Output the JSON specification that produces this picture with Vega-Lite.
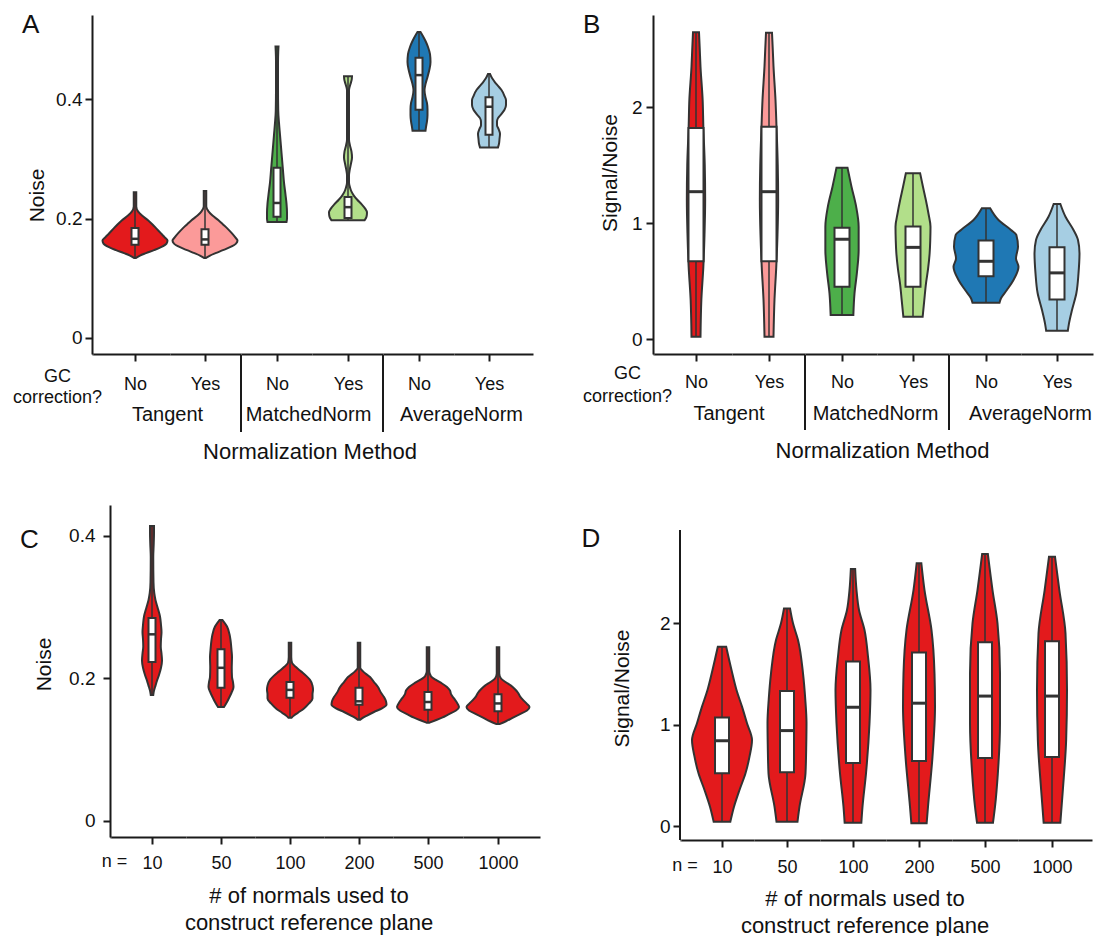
{
"$schema": "https://vega.github.io/schema/vega-lite/v6.json",
"autosize": {"type": "none"},
"padding": {"left": 92, "top": 15, "right": 1002, "bottom": 921},
"config": {
  "font": "Liberation Sans",
  "view": {"stroke": null},
  "axis": {"grid": false, "domainColor": "#1a1a1a", "domainWidth": 2, "tickColor": "#1a1a1a", "tickWidth": 2, "tickSize": 7, "labelFontSize": 19, "labelColor": "#111111", "titleFontSize": 18, "titleFontWeight": "normal", "titleColor": "#111111", "labelFont": "Liberation Sans", "titleFont": "Liberation Sans"},
  "title": {"fontWeight": "normal", "color": "#111111", "font": "Liberation Sans", "fontSize": 20}
},
"datasets": {
"violins": [
{"g":"A-TN","v":0.134,"w":2},{"g":"A-TN","v":0.138,"w":10},{"g":"A-TN","v":0.142,"w":22},{"g":"A-TN","v":0.147,"w":38},{"g":"A-TN","v":0.152,"w":52},{"g":"A-TN","v":0.158,"w":63},{"g":"A-TN","v":0.163,"w":65},{"g":"A-TN","v":0.168,"w":60},{"g":"A-TN","v":0.175,"w":52},{"g":"A-TN","v":0.183,"w":43},{"g":"A-TN","v":0.19,"w":35},{"g":"A-TN","v":0.197,"w":26},{"g":"A-TN","v":0.205,"w":14},{"g":"A-TN","v":0.212,"w":6},{"g":"A-TN","v":0.22,"w":2.5},{"g":"A-TN","v":0.232,"w":2.5},{"g":"A-TN","v":0.244,"w":2.5},
{"g":"A-TY","v":0.134,"w":2},{"g":"A-TY","v":0.138,"w":10},{"g":"A-TY","v":0.142,"w":21},{"g":"A-TY","v":0.147,"w":36},{"g":"A-TY","v":0.152,"w":50},{"g":"A-TY","v":0.158,"w":62},{"g":"A-TY","v":0.163,"w":65},{"g":"A-TY","v":0.168,"w":61},{"g":"A-TY","v":0.175,"w":54},{"g":"A-TY","v":0.183,"w":45},{"g":"A-TY","v":0.19,"w":36},{"g":"A-TY","v":0.197,"w":27},{"g":"A-TY","v":0.205,"w":15},{"g":"A-TY","v":0.212,"w":7},{"g":"A-TY","v":0.22,"w":2.5},{"g":"A-TY","v":0.235,"w":2.5},{"g":"A-TY","v":0.246,"w":2.5},
{"g":"A-MN","v":0.194,"w":19},{"g":"A-MN","v":0.2,"w":20},{"g":"A-MN","v":0.21,"w":20},{"g":"A-MN","v":0.225,"w":19},{"g":"A-MN","v":0.24,"w":17},{"g":"A-MN","v":0.26,"w":14},{"g":"A-MN","v":0.28,"w":12},{"g":"A-MN","v":0.3,"w":10},{"g":"A-MN","v":0.32,"w":8},{"g":"A-MN","v":0.34,"w":6},{"g":"A-MN","v":0.36,"w":4},{"g":"A-MN","v":0.38,"w":2.5},{"g":"A-MN","v":0.42,"w":2},{"g":"A-MN","v":0.46,"w":2},{"g":"A-MN","v":0.48,"w":2.5},{"g":"A-MN","v":0.488,"w":3},
{"g":"A-MY","v":0.197,"w":33},{"g":"A-MY","v":0.203,"w":37},{"g":"A-MY","v":0.21,"w":38},{"g":"A-MY","v":0.217,"w":34},{"g":"A-MY","v":0.224,"w":27},{"g":"A-MY","v":0.231,"w":19},{"g":"A-MY","v":0.238,"w":12},{"g":"A-MY","v":0.245,"w":7},{"g":"A-MY","v":0.252,"w":4},{"g":"A-MY","v":0.26,"w":2},{"g":"A-MY","v":0.272,"w":2},{"g":"A-MY","v":0.282,"w":3.5},{"g":"A-MY","v":0.292,"w":6},{"g":"A-MY","v":0.302,"w":8},{"g":"A-MY","v":0.312,"w":7},{"g":"A-MY","v":0.322,"w":4},{"g":"A-MY","v":0.332,"w":2},{"g":"A-MY","v":0.37,"w":2},{"g":"A-MY","v":0.415,"w":2},{"g":"A-MY","v":0.425,"w":5},{"g":"A-MY","v":0.433,"w":7.5},{"g":"A-MY","v":0.438,"w":8},
{"g":"A-AN","v":0.347,"w":13},{"g":"A-AN","v":0.353,"w":14},{"g":"A-AN","v":0.363,"w":16},{"g":"A-AN","v":0.373,"w":17},{"g":"A-AN","v":0.383,"w":17},{"g":"A-AN","v":0.393,"w":16},{"g":"A-AN","v":0.403,"w":13},{"g":"A-AN","v":0.415,"w":11},{"g":"A-AN","v":0.425,"w":13},{"g":"A-AN","v":0.437,"w":17},{"g":"A-AN","v":0.45,"w":21},{"g":"A-AN","v":0.462,"w":23},{"g":"A-AN","v":0.475,"w":22},{"g":"A-AN","v":0.487,"w":18},{"g":"A-AN","v":0.497,"w":13},{"g":"A-AN","v":0.505,"w":8},{"g":"A-AN","v":0.512,"w":3},
{"g":"A-AY","v":0.319,"w":18},{"g":"A-AY","v":0.325,"w":20},{"g":"A-AY","v":0.333,"w":21},{"g":"A-AY","v":0.342,"w":22},{"g":"A-AY","v":0.35,"w":19},{"g":"A-AY","v":0.356,"w":16},{"g":"A-AY","v":0.362,"w":16},{"g":"A-AY","v":0.368,"w":18},{"g":"A-AY","v":0.375,"w":25},{"g":"A-AY","v":0.382,"w":31},{"g":"A-AY","v":0.39,"w":34},{"g":"A-AY","v":0.398,"w":34},{"g":"A-AY","v":0.405,"w":31},{"g":"A-AY","v":0.415,"w":25},{"g":"A-AY","v":0.422,"w":18},{"g":"A-AY","v":0.428,"w":12},{"g":"A-AY","v":0.435,"w":6},{"g":"A-AY","v":0.442,"w":2},
{"g":"B-TN","v":0.02,"w":9},{"g":"B-TN","v":0.336,"w":10.7},{"g":"B-TN","v":0.623,"w":14.7},{"g":"B-TN","v":0.9,"w":17},{"g":"B-TN","v":1.198,"w":18.3},{"g":"B-TN","v":1.5,"w":17.5},{"g":"B-TN","v":1.83,"w":14.7},{"g":"B-TN","v":2.06,"w":13.3},{"g":"B-TN","v":2.347,"w":9},{"g":"B-TN","v":2.5,"w":7.5},{"g":"B-TN","v":2.644,"w":6},
{"g":"B-TY","v":0.02,"w":9},{"g":"B-TY","v":0.34,"w":11},{"g":"B-TY","v":0.62,"w":14.5},{"g":"B-TY","v":0.9,"w":17},{"g":"B-TY","v":1.2,"w":18.3},{"g":"B-TY","v":1.5,"w":17.5},{"g":"B-TY","v":1.83,"w":15},{"g":"B-TY","v":2.06,"w":13},{"g":"B-TY","v":2.35,"w":9},{"g":"B-TY","v":2.5,"w":7.5},{"g":"B-TY","v":2.64,"w":6},
{"g":"B-MN","v":0.207,"w":22.7},{"g":"B-MN","v":0.394,"w":25},{"g":"B-MN","v":0.566,"w":29.7},{"g":"B-MN","v":0.767,"w":33.3},{"g":"B-MN","v":0.968,"w":33.3},{"g":"B-MN","v":1.141,"w":28.3},{"g":"B-MN","v":1.313,"w":19},{"g":"B-MN","v":1.477,"w":11},
{"g":"B-MY","v":0.192,"w":19.3},{"g":"B-MY","v":0.33,"w":22.5},{"g":"B-MY","v":0.48,"w":26},{"g":"B-MY","v":0.6,"w":30},{"g":"B-MY","v":0.739,"w":33.3},{"g":"B-MY","v":0.85,"w":34.5},{"g":"B-MY","v":0.968,"w":35},{"g":"B-MY","v":1.08,"w":31},{"g":"B-MY","v":1.198,"w":25.7},{"g":"B-MY","v":1.31,"w":20},{"g":"B-MY","v":1.428,"w":14.3},
{"g":"B-AN","v":0.313,"w":27},{"g":"B-AN","v":0.351,"w":30},{"g":"B-AN","v":0.422,"w":41.7},{"g":"B-AN","v":0.509,"w":55},{"g":"B-AN","v":0.623,"w":65},{"g":"B-AN","v":0.695,"w":60},{"g":"B-AN","v":0.796,"w":64},{"g":"B-AN","v":0.897,"w":60.7},{"g":"B-AN","v":0.94,"w":50},{"g":"B-AN","v":1.026,"w":25},{"g":"B-AN","v":1.127,"w":8.3},
{"g":"B-AY","v":0.072,"w":21.7},{"g":"B-AY","v":0.135,"w":24},{"g":"B-AY","v":0.25,"w":30},{"g":"B-AY","v":0.394,"w":38.7},{"g":"B-AY","v":0.566,"w":43},{"g":"B-AY","v":0.739,"w":45},{"g":"B-AY","v":0.853,"w":42},{"g":"B-AY","v":0.94,"w":33},{"g":"B-AY","v":1.054,"w":17},{"g":"B-AY","v":1.164,"w":6.7},
{"g":"C-10","v":0.177,"w":2.5},{"g":"C-10","v":0.183,"w":4},{"g":"C-10","v":0.19,"w":7},{"g":"C-10","v":0.197,"w":10},{"g":"C-10","v":0.205,"w":14},{"g":"C-10","v":0.215,"w":18},{"g":"C-10","v":0.225,"w":20},{"g":"C-10","v":0.235,"w":19},{"g":"C-10","v":0.245,"w":17.5},{"g":"C-10","v":0.255,"w":18},{"g":"C-10","v":0.265,"w":19},{"g":"C-10","v":0.275,"w":18},{"g":"C-10","v":0.287,"w":16},{"g":"C-10","v":0.3,"w":11},{"g":"C-10","v":0.31,"w":7},{"g":"C-10","v":0.32,"w":4.5},{"g":"C-10","v":0.335,"w":3},{"g":"C-10","v":0.37,"w":2.5},{"g":"C-10","v":0.39,"w":3.5},{"g":"C-10","v":0.405,"w":4},{"g":"C-10","v":0.414,"w":4},
{"g":"C-50","v":0.16,"w":6},{"g":"C-50","v":0.167,"w":12},{"g":"C-50","v":0.174,"w":17},{"g":"C-50","v":0.18,"w":21},{"g":"C-50","v":0.188,"w":25},{"g":"C-50","v":0.195,"w":24},{"g":"C-50","v":0.202,"w":22},{"g":"C-50","v":0.215,"w":21.5},{"g":"C-50","v":0.23,"w":22},{"g":"C-50","v":0.24,"w":21},{"g":"C-50","v":0.254,"w":19},{"g":"C-50","v":0.262,"w":17},{"g":"C-50","v":0.273,"w":12},{"g":"C-50","v":0.282,"w":3},
{"g":"C-100","v":0.145,"w":3},{"g":"C-100","v":0.148,"w":8},{"g":"C-100","v":0.152,"w":16},{"g":"C-100","v":0.158,"w":28},{"g":"C-100","v":0.165,"w":38},{"g":"C-100","v":0.172,"w":45},{"g":"C-100","v":0.178,"w":45},{"g":"C-100","v":0.184,"w":46},{"g":"C-100","v":0.19,"w":45},{"g":"C-100","v":0.198,"w":40},{"g":"C-100","v":0.204,"w":32},{"g":"C-100","v":0.21,"w":22},{"g":"C-100","v":0.216,"w":12},{"g":"C-100","v":0.222,"w":4},{"g":"C-100","v":0.23,"w":2.5},{"g":"C-100","v":0.25,"w":2.5},
{"g":"C-200","v":0.142,"w":2.5},{"g":"C-200","v":0.144,"w":6},{"g":"C-200","v":0.148,"w":16},{"g":"C-200","v":0.153,"w":30},{"g":"C-200","v":0.158,"w":46},{"g":"C-200","v":0.163,"w":55},{"g":"C-200","v":0.168,"w":54},{"g":"C-200","v":0.174,"w":50},{"g":"C-200","v":0.18,"w":44},{"g":"C-200","v":0.188,"w":38},{"g":"C-200","v":0.195,"w":30},{"g":"C-200","v":0.202,"w":22},{"g":"C-200","v":0.21,"w":8},{"g":"C-200","v":0.215,"w":2.5},{"g":"C-200","v":0.25,"w":2.5},
{"g":"C-500","v":0.138,"w":3},{"g":"C-500","v":0.141,"w":14},{"g":"C-500","v":0.145,"w":28},{"g":"C-500","v":0.15,"w":42},{"g":"C-500","v":0.155,"w":56},{"g":"C-500","v":0.16,"w":62},{"g":"C-500","v":0.166,"w":58},{"g":"C-500","v":0.172,"w":52},{"g":"C-500","v":0.178,"w":46},{"g":"C-500","v":0.183,"w":44},{"g":"C-500","v":0.188,"w":38},{"g":"C-500","v":0.193,"w":28},{"g":"C-500","v":0.198,"w":16},{"g":"C-500","v":0.203,"w":6},{"g":"C-500","v":0.21,"w":2.5},{"g":"C-500","v":0.244,"w":2.5},
{"g":"C-1000","v":0.136,"w":3},{"g":"C-1000","v":0.14,"w":16},{"g":"C-1000","v":0.145,"w":30},{"g":"C-1000","v":0.15,"w":44},{"g":"C-1000","v":0.155,"w":58},{"g":"C-1000","v":0.16,"w":63},{"g":"C-1000","v":0.165,"w":57},{"g":"C-1000","v":0.17,"w":50},{"g":"C-1000","v":0.175,"w":44},{"g":"C-1000","v":0.18,"w":40},{"g":"C-1000","v":0.185,"w":34},{"g":"C-1000","v":0.19,"w":26},{"g":"C-1000","v":0.195,"w":15},{"g":"C-1000","v":0.2,"w":6},{"g":"C-1000","v":0.207,"w":2.5},{"g":"C-1000","v":0.244,"w":2.5},
{"g":"D-10","v":0.043,"w":16.7},{"g":"D-10","v":0.19,"w":24},{"g":"D-10","v":0.355,"w":35},{"g":"D-10","v":0.519,"w":47},{"g":"D-10","v":0.683,"w":55},{"g":"D-10","v":0.847,"w":60},{"g":"D-10","v":1.012,"w":50},{"g":"D-10","v":1.176,"w":40},{"g":"D-10","v":1.34,"w":29},{"g":"D-10","v":1.537,"w":19},{"g":"D-10","v":1.767,"w":8.3},
{"g":"D-50","v":0.043,"w":21},{"g":"D-50","v":0.19,"w":25},{"g":"D-50","v":0.519,"w":37},{"g":"D-50","v":0.8,"w":38.5},{"g":"D-50","v":1.012,"w":39},{"g":"D-50","v":1.25,"w":36.5},{"g":"D-50","v":1.504,"w":32},{"g":"D-50","v":1.833,"w":22},{"g":"D-50","v":1.997,"w":12},{"g":"D-50","v":2.144,"w":6},
{"g":"D-100","v":0.033,"w":16.7},{"g":"D-100","v":0.19,"w":19},{"g":"D-100","v":0.519,"w":26},{"g":"D-100","v":1.012,"w":33},{"g":"D-100","v":1.34,"w":35},{"g":"D-100","v":1.668,"w":30},{"g":"D-100","v":1.931,"w":23},{"g":"D-100","v":2.128,"w":12},{"g":"D-100","v":2.325,"w":7},{"g":"D-100","v":2.532,"w":4.3},
{"g":"D-200","v":0.026,"w":15.3},{"g":"D-200","v":0.19,"w":18},{"g":"D-200","v":0.683,"w":27},{"g":"D-200","v":1.176,"w":32},{"g":"D-200","v":1.504,"w":31},{"g":"D-200","v":1.931,"w":25},{"g":"D-200","v":2.325,"w":11},{"g":"D-200","v":2.588,"w":4.7},
{"g":"D-500","v":0.033,"w":16},{"g":"D-500","v":0.19,"w":20},{"g":"D-500","v":0.519,"w":25.7},{"g":"D-500","v":1.012,"w":30},{"g":"D-500","v":1.504,"w":30},{"g":"D-500","v":1.997,"w":25},{"g":"D-500","v":2.325,"w":15},{"g":"D-500","v":2.68,"w":5.7},
{"g":"D-1000","v":0.033,"w":16.7},{"g":"D-1000","v":0.355,"w":21.7},{"g":"D-1000","v":0.847,"w":28.3},{"g":"D-1000","v":1.34,"w":30},{"g":"D-1000","v":1.898,"w":27},{"g":"D-1000","v":2.325,"w":14.7},{"g":"D-1000","v":2.653,"w":6}
],
"boxes": [
{"g":"A-TN","lo":0.134,"q1":0.156,"med":0.166,"q3":0.184,"hi":0.244},
{"g":"A-TY","lo":0.134,"q1":0.156,"med":0.165,"q3":0.182,"hi":0.246},
{"g":"A-MN","lo":0.194,"q1":0.203,"med":0.226,"q3":0.285,"hi":0.488},
{"g":"A-MY","lo":0.197,"q1":0.201,"med":0.219,"q3":0.236,"hi":0.438},
{"g":"A-AN","lo":0.347,"q1":0.382,"med":0.44,"q3":0.469,"hi":0.512},
{"g":"A-AY","lo":0.319,"q1":0.34,"med":0.387,"q3":0.403,"hi":0.442},
{"g":"B-TN","lo":0.02,"q1":0.67,"med":1.27,"q3":1.82,"hi":2.644},
{"g":"B-TY","lo":0.02,"q1":0.67,"med":1.27,"q3":1.83,"hi":2.64},
{"g":"B-MN","lo":0.207,"q1":0.45,"med":0.86,"q3":0.96,"hi":1.477},
{"g":"B-MY","lo":0.192,"q1":0.45,"med":0.79,"q3":0.97,"hi":1.428},
{"g":"B-AN","lo":0.313,"q1":0.54,"med":0.67,"q3":0.85,"hi":1.127},
{"g":"B-AY","lo":0.072,"q1":0.34,"med":0.57,"q3":0.79,"hi":1.164},
{"g":"C-10","lo":0.177,"q1":0.223,"med":0.262,"q3":0.285,"hi":0.414},
{"g":"C-50","lo":0.16,"q1":0.187,"med":0.215,"q3":0.241,"hi":0.282},
{"g":"C-100","lo":0.145,"q1":0.173,"med":0.184,"q3":0.195,"hi":0.25},
{"g":"C-200","lo":0.142,"q1":0.163,"med":0.168,"q3":0.187,"hi":0.25},
{"g":"C-500","lo":0.138,"q1":0.156,"med":0.167,"q3":0.181,"hi":0.244},
{"g":"C-1000","lo":0.136,"q1":0.154,"med":0.165,"q3":0.178,"hi":0.244},
{"g":"D-10","lo":0.043,"q1":0.52,"med":0.84,"q3":1.07,"hi":1.767},
{"g":"D-50","lo":0.043,"q1":0.53,"med":0.94,"q3":1.33,"hi":2.144},
{"g":"D-100","lo":0.033,"q1":0.62,"med":1.17,"q3":1.62,"hi":2.532},
{"g":"D-200","lo":0.026,"q1":0.64,"med":1.21,"q3":1.71,"hi":2.588},
{"g":"D-500","lo":0.033,"q1":0.67,"med":1.28,"q3":1.81,"hi":2.68},
{"g":"D-1000","lo":0.033,"q1":0.68,"med":1.28,"q3":1.82,"hi":2.653}
]
},
"bounds": "flush",
"spacing": 490,
"vconcat": [
{"bounds": "flush", "spacing": 0, "hconcat": [
{"width": 1, "height": 339,
 "title": {"text": "A", "orient": "top", "anchor": "start", "fontSize": 26, "offset": -23, "dx": 9.5},
 "data": {"values": [{}]}, "mark": {"type": "point", "opacity": 0},
 "encoding": {
  "y": {"datum": 0, "type": "quantitative", "scale": {"domain": [-0.02678, 0.54059], "nice": false, "zero": false}, "axis": {"values": [0, 0.2, 0.4], "format": "~g", "title": "Noise", "titleFontSize": 21, "labelPadding": 3, "titlePadding": 8, "titleY": 180}},
  "x": {"datum": 0, "type": "quantitative", "scale": {"domain": [0, 1]}, "axis": {"ticks": false, "labels": false, "title": ["GC", "correction?"], "titleX": -35, "titlePadding": 13, "titleLineHeight": 21}}}},
{"width": 77, "height": 339,
 "title": {"text": "Tangent", "orient": "bottom", "anchor": "end", "align": "center", "baseline": "top", "fontSize": 20, "offset": 12, "dx": -4},
 "layer": [
  {"data": {"name": "violins"}, "transform": [{"filter": "datum.g == 'A-TN'"}], "mark": {"type": "area", "orient": "horizontal", "interpolate": "monotone", "fill": "#e31a1c", "stroke": "#333333", "strokeWidth": 2},
   "encoding": {"y": {"field": "v", "type": "quantitative", "scale": {"domain": [-0.02678, 0.54059], "nice": false, "zero": false}, "axis": null},
    "x": {"field": "w", "type": "quantitative", "stack": "center", "scale": {"domain": [-9.5, 67.5], "nice": false, "zero": false}, "axis": {"values": [32.5], "labels": false, "title": "No", "titleX": 42, "titlePadding": 13}}}},
  {"data": {"name": "boxes"}, "transform": [{"filter": "datum.g == 'A-TN'"}], "mark": {"type": "rule", "color": "#333333", "strokeWidth": 1.5},
   "encoding": {"x": {"datum": 32.5, "type": "quantitative"}, "y": {"field": "lo", "type": "quantitative", "axis": null}, "y2": {"field": "hi"}}},
  {"data": {"name": "boxes"}, "transform": [{"filter": "datum.g == 'A-TN'"}], "mark": {"type": "rect", "fill": "#ffffff", "stroke": "#333333", "strokeWidth": 2},
   "encoding": {"x": {"datum": 29, "type": "quantitative"}, "x2": {"datum": 36}, "y": {"field": "q1", "type": "quantitative", "axis": null}, "y2": {"field": "q3"}}},
  {"data": {"name": "boxes"}, "transform": [{"filter": "datum.g == 'A-TN'"}], "mark": {"type": "rule", "color": "#333333", "strokeWidth": 2.5},
   "encoding": {"x": {"datum": 29, "type": "quantitative"}, "x2": {"datum": 36}, "y": {"field": "med", "type": "quantitative", "axis": null}}}
 ]},
{"width": 71, "height": 339,
 "layer": [
  {"data": {"name": "violins"}, "transform": [{"filter": "datum.g == 'A-TY'"}], "mark": {"type": "area", "orient": "horizontal", "interpolate": "monotone", "fill": "#fb9a99", "stroke": "#333333", "strokeWidth": 2},
   "encoding": {"y": {"field": "v", "type": "quantitative", "scale": {"domain": [-0.02678, 0.54059], "nice": false, "zero": false}, "axis": null},
    "x": {"field": "w", "type": "quantitative", "stack": "center", "scale": {"domain": [-2.5, 68.5], "nice": false, "zero": false}, "axis": {"values": [32.5], "labels": false, "title": "Yes", "titleX": 35, "titlePadding": 13}}}},
  {"data": {"name": "boxes"}, "transform": [{"filter": "datum.g == 'A-TY'"}], "mark": {"type": "rule", "color": "#333333", "strokeWidth": 1.5},
   "encoding": {"x": {"datum": 32.5, "type": "quantitative"}, "y": {"field": "lo", "type": "quantitative", "axis": null}, "y2": {"field": "hi"}}},
  {"data": {"name": "boxes"}, "transform": [{"filter": "datum.g == 'A-TY'"}], "mark": {"type": "rect", "fill": "#ffffff", "stroke": "#333333", "strokeWidth": 2},
   "encoding": {"x": {"datum": 29, "type": "quantitative"}, "x2": {"datum": 36}, "y": {"field": "q1", "type": "quantitative", "axis": null}, "y2": {"field": "q3"}}},
  {"data": {"name": "boxes"}, "transform": [{"filter": "datum.g == 'A-TY'"}], "mark": {"type": "rule", "color": "#333333", "strokeWidth": 2.5},
   "encoding": {"x": {"datum": 29, "type": "quantitative"}, "x2": {"datum": 36}, "y": {"field": "med", "type": "quantitative", "axis": null}}},
  {"data": {"values": [{}]}, "mark": {"type": "rule", "color": "#1a1a1a", "strokeWidth": 2},
   "encoding": {"x": {"datum": 68.5, "type": "quantitative"}, "y": {"datum": -0.02845, "type": "quantitative", "axis": null}, "y2": {"datum": -0.15732}}}
 ]},
{"width": 71, "height": 339,
 "title": {"text": "MatchedNorm", "orient": "bottom", "anchor": "end", "align": "center", "baseline": "top", "fontSize": 20, "offset": 12, "dx": -3.5},
 "layer": [
  {"data": {"name": "violins"}, "transform": [{"filter": "datum.g == 'A-MN'"}], "mark": {"type": "area", "orient": "horizontal", "interpolate": "monotone", "fill": "#4daf4a", "stroke": "#333333", "strokeWidth": 2},
   "encoding": {"y": {"field": "v", "type": "quantitative", "scale": {"domain": [-0.02678, 0.54059], "nice": false, "zero": false}, "axis": null},
    "x": {"field": "w", "type": "quantitative", "stack": "center", "scale": {"domain": [-26, 45], "nice": false, "zero": false}, "axis": {"values": [10], "labels": false, "title": "No", "titleX": 36, "titlePadding": 13}}}},
  {"data": {"name": "boxes"}, "transform": [{"filter": "datum.g == 'A-MN'"}], "mark": {"type": "rule", "color": "#333333", "strokeWidth": 1.5},
   "encoding": {"x": {"datum": 10, "type": "quantitative"}, "y": {"field": "lo", "type": "quantitative", "axis": null}, "y2": {"field": "hi"}}},
  {"data": {"name": "boxes"}, "transform": [{"filter": "datum.g == 'A-MN'"}], "mark": {"type": "rect", "fill": "#ffffff", "stroke": "#333333", "strokeWidth": 2},
   "encoding": {"x": {"datum": 6.5, "type": "quantitative"}, "x2": {"datum": 13.5}, "y": {"field": "q1", "type": "quantitative", "axis": null}, "y2": {"field": "q3"}}},
  {"data": {"name": "boxes"}, "transform": [{"filter": "datum.g == 'A-MN'"}], "mark": {"type": "rule", "color": "#333333", "strokeWidth": 2.5},
   "encoding": {"x": {"datum": 6.5, "type": "quantitative"}, "x2": {"datum": 13.5}, "y": {"field": "med", "type": "quantitative", "axis": null}}}
 ]},
{"width": 71, "height": 339,
 "title": {"text": "Normalization Method", "orient": "bottom", "anchor": "start", "align": "center", "baseline": "top", "fontSize": 22, "offset": 9.5, "dx": -2},
 "layer": [
  {"data": {"name": "violins"}, "transform": [{"filter": "datum.g == 'A-MY'"}], "mark": {"type": "area", "orient": "horizontal", "interpolate": "monotone", "fill": "#b2df8a", "stroke": "#333333", "strokeWidth": 2},
   "encoding": {"y": {"field": "v", "type": "quantitative", "scale": {"domain": [-0.02678, 0.54059], "nice": false, "zero": false}, "axis": null},
    "x": {"field": "w", "type": "quantitative", "stack": "center", "scale": {"domain": [-17, 54], "nice": false, "zero": false}, "axis": {"values": [19], "labels": false, "title": "Yes", "titleX": 36, "titlePadding": 13}}}},
  {"data": {"name": "boxes"}, "transform": [{"filter": "datum.g == 'A-MY'"}], "mark": {"type": "rule", "color": "#333333", "strokeWidth": 1.5},
   "encoding": {"x": {"datum": 19, "type": "quantitative"}, "y": {"field": "lo", "type": "quantitative", "axis": null}, "y2": {"field": "hi"}}},
  {"data": {"name": "boxes"}, "transform": [{"filter": "datum.g == 'A-MY'"}], "mark": {"type": "rect", "fill": "#ffffff", "stroke": "#333333", "strokeWidth": 2},
   "encoding": {"x": {"datum": 15.5, "type": "quantitative"}, "x2": {"datum": 22.5}, "y": {"field": "q1", "type": "quantitative", "axis": null}, "y2": {"field": "q3"}}},
  {"data": {"name": "boxes"}, "transform": [{"filter": "datum.g == 'A-MY'"}], "mark": {"type": "rule", "color": "#333333", "strokeWidth": 2.5},
   "encoding": {"x": {"datum": 15.5, "type": "quantitative"}, "x2": {"datum": 22.5}, "y": {"field": "med", "type": "quantitative", "axis": null}}},
  {"data": {"values": [{}]}, "mark": {"type": "rule", "color": "#1a1a1a", "strokeWidth": 2},
   "encoding": {"x": {"datum": 54, "type": "quantitative"}, "y": {"datum": -0.02845, "type": "quantitative", "axis": null}, "y2": {"datum": -0.15732}}}
 ]},
{"width": 71, "height": 339,
 "title": {"text": "AverageNorm", "orient": "bottom", "anchor": "end", "align": "center", "baseline": "top", "fontSize": 20, "offset": 12, "dx": 7.5},
 "layer": [
  {"data": {"name": "violins"}, "transform": [{"filter": "datum.g == 'A-AN'"}], "mark": {"type": "area", "orient": "horizontal", "interpolate": "monotone", "fill": "#1f78b4", "stroke": "#333333", "strokeWidth": 2},
   "encoding": {"y": {"field": "v", "type": "quantitative", "scale": {"domain": [-0.02678, 0.54059], "nice": false, "zero": false}, "axis": null},
    "x": {"field": "w", "type": "quantitative", "stack": "center", "scale": {"domain": [-24.5, 46.5], "nice": false, "zero": false}, "axis": {"values": [11.5], "labels": false, "title": "No", "titleX": 36, "titlePadding": 13}}}},
  {"data": {"name": "boxes"}, "transform": [{"filter": "datum.g == 'A-AN'"}], "mark": {"type": "rule", "color": "#333333", "strokeWidth": 1.5},
   "encoding": {"x": {"datum": 11.5, "type": "quantitative"}, "y": {"field": "lo", "type": "quantitative", "axis": null}, "y2": {"field": "hi"}}},
  {"data": {"name": "boxes"}, "transform": [{"filter": "datum.g == 'A-AN'"}], "mark": {"type": "rect", "fill": "#ffffff", "stroke": "#333333", "strokeWidth": 2},
   "encoding": {"x": {"datum": 8, "type": "quantitative"}, "x2": {"datum": 15}, "y": {"field": "q1", "type": "quantitative", "axis": null}, "y2": {"field": "q3"}}},
  {"data": {"name": "boxes"}, "transform": [{"filter": "datum.g == 'A-AN'"}], "mark": {"type": "rule", "color": "#333333", "strokeWidth": 2.5},
   "encoding": {"x": {"datum": 8, "type": "quantitative"}, "x2": {"datum": 15}, "y": {"field": "med", "type": "quantitative", "axis": null}}}
 ]},
{"width": 79, "height": 339,
 "layer": [
  {"data": {"name": "violins"}, "transform": [{"filter": "datum.g == 'A-AY'"}], "mark": {"type": "area", "orient": "horizontal", "interpolate": "monotone", "fill": "#a6cee3", "stroke": "#333333", "strokeWidth": 2},
   "encoding": {"y": {"field": "v", "type": "quantitative", "scale": {"domain": [-0.02678, 0.54059], "nice": false, "zero": false}, "axis": null},
    "x": {"field": "w", "type": "quantitative", "stack": "center", "scale": {"domain": [-18, 61], "nice": false, "zero": false}, "axis": {"values": [17], "labels": false, "title": "Yes", "titleX": 35, "titlePadding": 13}}}},
  {"data": {"name": "boxes"}, "transform": [{"filter": "datum.g == 'A-AY'"}], "mark": {"type": "rule", "color": "#333333", "strokeWidth": 1.5},
   "encoding": {"x": {"datum": 17, "type": "quantitative"}, "y": {"field": "lo", "type": "quantitative", "axis": null}, "y2": {"field": "hi"}}},
  {"data": {"name": "boxes"}, "transform": [{"filter": "datum.g == 'A-AY'"}], "mark": {"type": "rect", "fill": "#ffffff", "stroke": "#333333", "strokeWidth": 2},
   "encoding": {"x": {"datum": 13.5, "type": "quantitative"}, "x2": {"datum": 20.5}, "y": {"field": "q1", "type": "quantitative", "axis": null}, "y2": {"field": "q3"}}},
  {"data": {"name": "boxes"}, "transform": [{"filter": "datum.g == 'A-AY'"}], "mark": {"type": "rule", "color": "#333333", "strokeWidth": 2.5},
   "encoding": {"x": {"datum": 13.5, "type": "quantitative"}, "x2": {"datum": 20.5}, "y": {"field": "med", "type": "quantitative", "axis": null}}}
 ]},
{"width": 120, "height": 1, "data": {"values": [{}]}, "mark": {"type": "point", "opacity": 0}},
{"width": 1, "height": 339,
 "title": {"text": "B", "orient": "top", "anchor": "start", "fontSize": 26, "offset": -23, "dx": 0.5},
 "data": {"values": [{}]}, "mark": {"type": "point", "opacity": 0},
 "encoding": {
  "y": {"datum": 0, "type": "quantitative", "scale": {"domain": [-0.1293, 2.7931], "nice": false, "zero": false}, "axis": {"values": [0, 1, 2], "format": "~g", "title": "Signal/Noise", "titleFontSize": 21, "labelPadding": 4, "titlePadding": 11, "titleY": 157.5}},
  "x": {"datum": 0, "type": "quantitative", "scale": {"domain": [0, 1]}, "axis": {"ticks": false, "labels": false, "title": ["GC", "correction?"], "titleX": -26, "titlePadding": 10.6, "titleLineHeight": 23}}}},
{"width": 78, "height": 339,
 "title": {"text": "Tangent", "orient": "bottom", "anchor": "end", "align": "center", "baseline": "top", "fontSize": 20, "offset": 13, "dx": -3},
 "layer": [
  {"data": {"name": "violins"}, "transform": [{"filter": "datum.g == 'B-TN'"}], "mark": {"type": "area", "orient": "horizontal", "interpolate": "monotone", "fill": "#e31a1c", "stroke": "#333333", "strokeWidth": 2},
   "encoding": {"y": {"field": "v", "type": "quantitative", "scale": {"domain": [-0.1293, 2.7931], "nice": false, "zero": false}, "axis": null},
    "x": {"field": "w", "type": "quantitative", "stack": "center", "scale": {"domain": [-32.85, 45.15], "nice": false, "zero": false}, "axis": {"values": [9.15], "labels": false, "title": "No", "titleX": 42, "titlePadding": 11}}}},
  {"data": {"name": "boxes"}, "transform": [{"filter": "datum.g == 'B-TN'"}], "mark": {"type": "rule", "color": "#333333", "strokeWidth": 1.5},
   "encoding": {"x": {"datum": 9.15, "type": "quantitative"}, "y": {"field": "lo", "type": "quantitative", "axis": null}, "y2": {"field": "hi"}}},
  {"data": {"name": "boxes"}, "transform": [{"filter": "datum.g == 'B-TN'"}], "mark": {"type": "rect", "fill": "#ffffff", "stroke": "#333333", "strokeWidth": 2},
   "encoding": {"x": {"datum": 1.65, "type": "quantitative"}, "x2": {"datum": 16.65}, "y": {"field": "q1", "type": "quantitative", "axis": null}, "y2": {"field": "q3"}}},
  {"data": {"name": "boxes"}, "transform": [{"filter": "datum.g == 'B-TN'"}], "mark": {"type": "rule", "color": "#333333", "strokeWidth": 3},
   "encoding": {"x": {"datum": 1.65, "type": "quantitative"}, "x2": {"datum": 16.65}, "y": {"field": "med", "type": "quantitative", "axis": null}}}
 ]},
{"width": 73, "height": 339,
 "layer": [
  {"data": {"name": "violins"}, "transform": [{"filter": "datum.g == 'B-TY'"}], "mark": {"type": "area", "orient": "horizontal", "interpolate": "monotone", "fill": "#fb9a99", "stroke": "#333333", "strokeWidth": 2},
   "encoding": {"y": {"field": "v", "type": "quantitative", "scale": {"domain": [-0.1293, 2.7931], "nice": false, "zero": false}, "axis": null},
    "x": {"field": "w", "type": "quantitative", "stack": "center", "scale": {"domain": [-27.85, 45.15], "nice": false, "zero": false}, "axis": {"values": [9.15], "labels": false, "title": "Yes", "titleX": 37, "titlePadding": 11}}}},
  {"data": {"name": "boxes"}, "transform": [{"filter": "datum.g == 'B-TY'"}], "mark": {"type": "rule", "color": "#333333", "strokeWidth": 1.5},
   "encoding": {"x": {"datum": 9.15, "type": "quantitative"}, "y": {"field": "lo", "type": "quantitative", "axis": null}, "y2": {"field": "hi"}}},
  {"data": {"name": "boxes"}, "transform": [{"filter": "datum.g == 'B-TY'"}], "mark": {"type": "rect", "fill": "#ffffff", "stroke": "#333333", "strokeWidth": 2},
   "encoding": {"x": {"datum": 1.65, "type": "quantitative"}, "x2": {"datum": 16.65}, "y": {"field": "q1", "type": "quantitative", "axis": null}, "y2": {"field": "q3"}}},
  {"data": {"name": "boxes"}, "transform": [{"filter": "datum.g == 'B-TY'"}], "mark": {"type": "rule", "color": "#333333", "strokeWidth": 3},
   "encoding": {"x": {"datum": 1.65, "type": "quantitative"}, "x2": {"datum": 16.65}, "y": {"field": "med", "type": "quantitative", "axis": null}}},
  {"data": {"values": [{}]}, "mark": {"type": "rule", "color": "#1a1a1a", "strokeWidth": 2},
   "encoding": {"x": {"datum": 45.15, "type": "quantitative"}, "y": {"datum": -0.1379, "type": "quantitative", "axis": null}, "y2": {"datum": -0.7845}}}
 ]},
{"width": 72, "height": 339,
 "title": {"text": "MatchedNorm", "orient": "bottom", "anchor": "end", "align": "center", "baseline": "top", "fontSize": 20, "offset": 13, "dx": -1.5},
 "layer": [
  {"data": {"name": "violins"}, "transform": [{"filter": "datum.g == 'B-MN'"}], "mark": {"type": "area", "orient": "horizontal", "interpolate": "monotone", "fill": "#4daf4a", "stroke": "#333333", "strokeWidth": 2},
   "encoding": {"y": {"field": "v", "type": "quantitative", "scale": {"domain": [-0.1293, 2.7931], "nice": false, "zero": false}, "axis": null},
    "x": {"field": "w", "type": "quantitative", "stack": "center", "scale": {"domain": [-20.35, 51.65], "nice": false, "zero": false}, "axis": {"values": [16.65], "labels": false, "title": "No", "titleX": 37, "titlePadding": 11}}}},
  {"data": {"name": "boxes"}, "transform": [{"filter": "datum.g == 'B-MN'"}], "mark": {"type": "rule", "color": "#333333", "strokeWidth": 1.5},
   "encoding": {"x": {"datum": 16.65, "type": "quantitative"}, "y": {"field": "lo", "type": "quantitative", "axis": null}, "y2": {"field": "hi"}}},
  {"data": {"name": "boxes"}, "transform": [{"filter": "datum.g == 'B-MN'"}], "mark": {"type": "rect", "fill": "#ffffff", "stroke": "#333333", "strokeWidth": 2},
   "encoding": {"x": {"datum": 9.15, "type": "quantitative"}, "x2": {"datum": 24.15}, "y": {"field": "q1", "type": "quantitative", "axis": null}, "y2": {"field": "q3"}}},
  {"data": {"name": "boxes"}, "transform": [{"filter": "datum.g == 'B-MN'"}], "mark": {"type": "rule", "color": "#333333", "strokeWidth": 3},
   "encoding": {"x": {"datum": 9.15, "type": "quantitative"}, "x2": {"datum": 24.15}, "y": {"field": "med", "type": "quantitative", "axis": null}}}
 ]},
{"width": 72, "height": 339,
 "title": {"text": "Normalization Method", "orient": "bottom", "anchor": "start", "align": "center", "baseline": "top", "fontSize": 22, "offset": 9.5, "dx": 5.5},
 "layer": [
  {"data": {"name": "violins"}, "transform": [{"filter": "datum.g == 'B-MY'"}], "mark": {"type": "area", "orient": "horizontal", "interpolate": "monotone", "fill": "#b2df8a", "stroke": "#333333", "strokeWidth": 2},
   "encoding": {"y": {"field": "v", "type": "quantitative", "scale": {"domain": [-0.1293, 2.7931], "nice": false, "zero": false}, "axis": null},
    "x": {"field": "w", "type": "quantitative", "stack": "center", "scale": {"domain": [-18.5, 53.5], "nice": false, "zero": false}, "axis": {"values": [17.5], "labels": false, "title": "Yes", "titleX": 36, "titlePadding": 11}}}},
  {"data": {"name": "boxes"}, "transform": [{"filter": "datum.g == 'B-MY'"}], "mark": {"type": "rule", "color": "#333333", "strokeWidth": 1.5},
   "encoding": {"x": {"datum": 17.5, "type": "quantitative"}, "y": {"field": "lo", "type": "quantitative", "axis": null}, "y2": {"field": "hi"}}},
  {"data": {"name": "boxes"}, "transform": [{"filter": "datum.g == 'B-MY'"}], "mark": {"type": "rect", "fill": "#ffffff", "stroke": "#333333", "strokeWidth": 2},
   "encoding": {"x": {"datum": 10, "type": "quantitative"}, "x2": {"datum": 25}, "y": {"field": "q1", "type": "quantitative", "axis": null}, "y2": {"field": "q3"}}},
  {"data": {"name": "boxes"}, "transform": [{"filter": "datum.g == 'B-MY'"}], "mark": {"type": "rule", "color": "#333333", "strokeWidth": 3},
   "encoding": {"x": {"datum": 10, "type": "quantitative"}, "x2": {"datum": 25}, "y": {"field": "med", "type": "quantitative", "axis": null}}},
  {"data": {"values": [{}]}, "mark": {"type": "rule", "color": "#1a1a1a", "strokeWidth": 2},
   "encoding": {"x": {"datum": 53.5, "type": "quantitative"}, "y": {"datum": -0.1379, "type": "quantitative", "axis": null}, "y2": {"datum": -0.7845}}}
 ]},
{"width": 72, "height": 339,
 "title": {"text": "AverageNorm", "orient": "bottom", "anchor": "end", "align": "center", "baseline": "top", "fontSize": 20, "offset": 13, "dx": 8},
 "layer": [
  {"data": {"name": "violins"}, "transform": [{"filter": "datum.g == 'B-AN'"}], "mark": {"type": "area", "orient": "horizontal", "interpolate": "monotone", "fill": "#1f78b4", "stroke": "#333333", "strokeWidth": 2},
   "encoding": {"y": {"field": "v", "type": "quantitative", "scale": {"domain": [-0.1293, 2.7931], "nice": false, "zero": false}, "axis": null},
    "x": {"field": "w", "type": "quantitative", "stack": "center", "scale": {"domain": [-4.5, 67.5], "nice": false, "zero": false}, "axis": {"values": [32.5], "labels": false, "title": "No", "titleX": 37, "titlePadding": 11}}}},
  {"data": {"name": "boxes"}, "transform": [{"filter": "datum.g == 'B-AN'"}], "mark": {"type": "rule", "color": "#333333", "strokeWidth": 1.5},
   "encoding": {"x": {"datum": 32.5, "type": "quantitative"}, "y": {"field": "lo", "type": "quantitative", "axis": null}, "y2": {"field": "hi"}}},
  {"data": {"name": "boxes"}, "transform": [{"filter": "datum.g == 'B-AN'"}], "mark": {"type": "rect", "fill": "#ffffff", "stroke": "#333333", "strokeWidth": 2},
   "encoding": {"x": {"datum": 25, "type": "quantitative"}, "x2": {"datum": 40}, "y": {"field": "q1", "type": "quantitative", "axis": null}, "y2": {"field": "q3"}}},
  {"data": {"name": "boxes"}, "transform": [{"filter": "datum.g == 'B-AN'"}], "mark": {"type": "rule", "color": "#333333", "strokeWidth": 3},
   "encoding": {"x": {"datum": 25, "type": "quantitative"}, "x2": {"datum": 40}, "y": {"field": "med", "type": "quantitative", "axis": null}}}
 ]},
{"width": 72, "height": 339,
 "layer": [
  {"data": {"name": "violins"}, "transform": [{"filter": "datum.g == 'B-AY'"}], "mark": {"type": "area", "orient": "horizontal", "interpolate": "monotone", "fill": "#a6cee3", "stroke": "#333333", "strokeWidth": 2},
   "encoding": {"y": {"field": "v", "type": "quantitative", "scale": {"domain": [-0.1293, 2.7931], "nice": false, "zero": false}, "axis": null},
    "x": {"field": "w", "type": "quantitative", "stack": "center", "scale": {"domain": [-13.5, 58.5], "nice": false, "zero": false}, "axis": {"values": [22.5], "labels": false, "title": "Yes", "titleX": 36, "titlePadding": 11}}}},
  {"data": {"name": "boxes"}, "transform": [{"filter": "datum.g == 'B-AY'"}], "mark": {"type": "rule", "color": "#333333", "strokeWidth": 1.5},
   "encoding": {"x": {"datum": 22.5, "type": "quantitative"}, "y": {"field": "lo", "type": "quantitative", "axis": null}, "y2": {"field": "hi"}}},
  {"data": {"name": "boxes"}, "transform": [{"filter": "datum.g == 'B-AY'"}], "mark": {"type": "rect", "fill": "#ffffff", "stroke": "#333333", "strokeWidth": 2},
   "encoding": {"x": {"datum": 15, "type": "quantitative"}, "x2": {"datum": 30}, "y": {"field": "q1", "type": "quantitative", "axis": null}, "y2": {"field": "q3"}}},
  {"data": {"name": "boxes"}, "transform": [{"filter": "datum.g == 'B-AY'"}], "mark": {"type": "rule", "color": "#333333", "strokeWidth": 3},
   "encoding": {"x": {"datum": 15, "type": "quantitative"}, "x2": {"datum": 30}, "y": {"field": "med", "type": "quantitative", "axis": null}}}
 ]}
]},
{"bounds": "flush", "spacing": 0, "hconcat": [
{"width": 18, "height": 1, "data": {"values": [{}]}, "mark": {"type": "point", "opacity": 0}},
{"width": 1, "height": 332,
 "title": {"text": "C", "orient": "top", "anchor": "start", "fontSize": 26, "offset": -48, "dx": -13.5},
 "data": {"values": [{}]}, "mark": {"type": "point", "opacity": 0},
 "encoding": {
  "y": {"datum": 0, "type": "quantitative", "scale": {"domain": [-0.02246, 0.4435], "nice": false, "zero": false}, "axis": {"values": [0, 0.2, 0.4], "format": "~g", "title": "Noise", "titleFontSize": 21, "labelPadding": 8, "titlePadding": 14, "titleY": 159}},
  "x": {"datum": 0, "type": "quantitative", "scale": {"domain": [0, 1]}, "axis": {"ticks": false, "labels": false, "title": "n =", "titleX": 4, "titlePadding": 15.3}}}},
{"width": 75, "height": 332,
 "layer": [
  {"data": {"name": "violins"}, "transform": [{"filter": "datum.g == 'C-10'"}], "mark": {"type": "area", "orient": "horizontal", "interpolate": "monotone", "fill": "#e31a1c", "stroke": "#333333", "strokeWidth": 2},
   "encoding": {"y": {"field": "v", "type": "quantitative", "scale": {"domain": [-0.02246, 0.4435], "nice": false, "zero": false}, "axis": null},
    "x": {"field": "w", "type": "quantitative", "stack": "center", "scale": {"domain": [-31, 44], "nice": false, "zero": false}, "axis": {"values": [10], "labels": false, "title": "10", "titleX": 41, "titlePadding": 9}}}},
  {"data": {"name": "boxes"}, "transform": [{"filter": "datum.g == 'C-10'"}], "mark": {"type": "rule", "color": "#333333", "strokeWidth": 1.5},
   "encoding": {"x": {"datum": 10, "type": "quantitative"}, "y": {"field": "lo", "type": "quantitative", "axis": null}, "y2": {"field": "hi"}}},
  {"data": {"name": "boxes"}, "transform": [{"filter": "datum.g == 'C-10'"}], "mark": {"type": "rect", "fill": "#ffffff", "stroke": "#333333", "strokeWidth": 2},
   "encoding": {"x": {"datum": 6.5, "type": "quantitative"}, "x2": {"datum": 13.5}, "y": {"field": "q1", "type": "quantitative", "axis": null}, "y2": {"field": "q3"}}},
  {"data": {"name": "boxes"}, "transform": [{"filter": "datum.g == 'C-10'"}], "mark": {"type": "rule", "color": "#333333", "strokeWidth": 2.5},
   "encoding": {"x": {"datum": 6.5, "type": "quantitative"}, "x2": {"datum": 13.5}, "y": {"field": "med", "type": "quantitative", "axis": null}}}
 ]},
{"width": 69, "height": 332,
 "layer": [
  {"data": {"name": "violins"}, "transform": [{"filter": "datum.g == 'C-50'"}], "mark": {"type": "area", "orient": "horizontal", "interpolate": "monotone", "fill": "#e31a1c", "stroke": "#333333", "strokeWidth": 2},
   "encoding": {"y": {"field": "v", "type": "quantitative", "scale": {"domain": [-0.02246, 0.4435], "nice": false, "zero": false}, "axis": null},
    "x": {"field": "w", "type": "quantitative", "stack": "center", "scale": {"domain": [-22.5, 46.5], "nice": false, "zero": false}, "axis": {"values": [12.5], "labels": false, "title": "50", "titleX": 35, "titlePadding": 9}}}},
  {"data": {"name": "boxes"}, "transform": [{"filter": "datum.g == 'C-50'"}], "mark": {"type": "rule", "color": "#333333", "strokeWidth": 1.5},
   "encoding": {"x": {"datum": 12.5, "type": "quantitative"}, "y": {"field": "lo", "type": "quantitative", "axis": null}, "y2": {"field": "hi"}}},
  {"data": {"name": "boxes"}, "transform": [{"filter": "datum.g == 'C-50'"}], "mark": {"type": "rect", "fill": "#ffffff", "stroke": "#333333", "strokeWidth": 2},
   "encoding": {"x": {"datum": 9, "type": "quantitative"}, "x2": {"datum": 16}, "y": {"field": "q1", "type": "quantitative", "axis": null}, "y2": {"field": "q3"}}},
  {"data": {"name": "boxes"}, "transform": [{"filter": "datum.g == 'C-50'"}], "mark": {"type": "rule", "color": "#333333", "strokeWidth": 2.5},
   "encoding": {"x": {"datum": 9, "type": "quantitative"}, "x2": {"datum": 16}, "y": {"field": "med", "type": "quantitative", "axis": null}}}
 ]},
{"width": 69, "height": 332,
 "title": {"text": ["# of normals used to", "construct reference plane"], "orient": "bottom", "anchor": "end", "align": "center", "baseline": "top", "fontSize": 22, "lineHeight": 27, "offset": 14, "dx": -15},
 "layer": [
  {"data": {"name": "violins"}, "transform": [{"filter": "datum.g == 'C-100'"}], "mark": {"type": "area", "orient": "horizontal", "interpolate": "monotone", "fill": "#e31a1c", "stroke": "#333333", "strokeWidth": 2},
   "encoding": {"y": {"field": "v", "type": "quantitative", "scale": {"domain": [-0.02246, 0.4435], "nice": false, "zero": false}, "axis": null},
    "x": {"field": "w", "type": "quantitative", "stack": "center", "scale": {"domain": [-12, 57], "nice": false, "zero": false}, "axis": {"values": [23], "labels": false, "title": "100", "titleX": 35, "titlePadding": 9}}}},
  {"data": {"name": "boxes"}, "transform": [{"filter": "datum.g == 'C-100'"}], "mark": {"type": "rule", "color": "#333333", "strokeWidth": 1.5},
   "encoding": {"x": {"datum": 23, "type": "quantitative"}, "y": {"field": "lo", "type": "quantitative", "axis": null}, "y2": {"field": "hi"}}},
  {"data": {"name": "boxes"}, "transform": [{"filter": "datum.g == 'C-100'"}], "mark": {"type": "rect", "fill": "#ffffff", "stroke": "#333333", "strokeWidth": 2},
   "encoding": {"x": {"datum": 19.5, "type": "quantitative"}, "x2": {"datum": 26.5}, "y": {"field": "q1", "type": "quantitative", "axis": null}, "y2": {"field": "q3"}}},
  {"data": {"name": "boxes"}, "transform": [{"filter": "datum.g == 'C-100'"}], "mark": {"type": "rule", "color": "#333333", "strokeWidth": 2.5},
   "encoding": {"x": {"datum": 19.5, "type": "quantitative"}, "x2": {"datum": 26.5}, "y": {"field": "med", "type": "quantitative", "axis": null}}}
 ]},
{"width": 69, "height": 332,
 "layer": [
  {"data": {"name": "violins"}, "transform": [{"filter": "datum.g == 'C-200'"}], "mark": {"type": "area", "orient": "horizontal", "interpolate": "monotone", "fill": "#e31a1c", "stroke": "#333333", "strokeWidth": 2},
   "encoding": {"y": {"field": "v", "type": "quantitative", "scale": {"domain": [-0.02246, 0.4435], "nice": false, "zero": false}, "axis": null},
    "x": {"field": "w", "type": "quantitative", "stack": "center", "scale": {"domain": [-7.5, 61.5], "nice": false, "zero": false}, "axis": {"values": [27.5], "labels": false, "title": "200", "titleX": 35, "titlePadding": 9}}}},
  {"data": {"name": "boxes"}, "transform": [{"filter": "datum.g == 'C-200'"}], "mark": {"type": "rule", "color": "#333333", "strokeWidth": 1.5},
   "encoding": {"x": {"datum": 27.5, "type": "quantitative"}, "y": {"field": "lo", "type": "quantitative", "axis": null}, "y2": {"field": "hi"}}},
  {"data": {"name": "boxes"}, "transform": [{"filter": "datum.g == 'C-200'"}], "mark": {"type": "rect", "fill": "#ffffff", "stroke": "#333333", "strokeWidth": 2},
   "encoding": {"x": {"datum": 24, "type": "quantitative"}, "x2": {"datum": 31}, "y": {"field": "q1", "type": "quantitative", "axis": null}, "y2": {"field": "q3"}}},
  {"data": {"name": "boxes"}, "transform": [{"filter": "datum.g == 'C-200'"}], "mark": {"type": "rule", "color": "#333333", "strokeWidth": 2.5},
   "encoding": {"x": {"datum": 24, "type": "quantitative"}, "x2": {"datum": 31}, "y": {"field": "med", "type": "quantitative", "axis": null}}}
 ]},
{"width": 70, "height": 332,
 "layer": [
  {"data": {"name": "violins"}, "transform": [{"filter": "datum.g == 'C-500'"}], "mark": {"type": "area", "orient": "horizontal", "interpolate": "monotone", "fill": "#e31a1c", "stroke": "#333333", "strokeWidth": 2},
   "encoding": {"y": {"field": "v", "type": "quantitative", "scale": {"domain": [-0.02246, 0.4435], "nice": false, "zero": false}, "axis": null},
    "x": {"field": "w", "type": "quantitative", "stack": "center", "scale": {"domain": [-4, 66], "nice": false, "zero": false}, "axis": {"values": [31], "labels": false, "title": "500", "titleX": 35, "titlePadding": 9}}}},
  {"data": {"name": "boxes"}, "transform": [{"filter": "datum.g == 'C-500'"}], "mark": {"type": "rule", "color": "#333333", "strokeWidth": 1.5},
   "encoding": {"x": {"datum": 31, "type": "quantitative"}, "y": {"field": "lo", "type": "quantitative", "axis": null}, "y2": {"field": "hi"}}},
  {"data": {"name": "boxes"}, "transform": [{"filter": "datum.g == 'C-500'"}], "mark": {"type": "rect", "fill": "#ffffff", "stroke": "#333333", "strokeWidth": 2},
   "encoding": {"x": {"datum": 27.5, "type": "quantitative"}, "x2": {"datum": 34.5}, "y": {"field": "q1", "type": "quantitative", "axis": null}, "y2": {"field": "q3"}}},
  {"data": {"name": "boxes"}, "transform": [{"filter": "datum.g == 'C-500'"}], "mark": {"type": "rule", "color": "#333333", "strokeWidth": 2.5},
   "encoding": {"x": {"datum": 27.5, "type": "quantitative"}, "x2": {"datum": 34.5}, "y": {"field": "med", "type": "quantitative", "axis": null}}}
 ]},
{"width": 77, "height": 332,
 "layer": [
  {"data": {"name": "violins"}, "transform": [{"filter": "datum.g == 'C-1000'"}], "mark": {"type": "area", "orient": "horizontal", "interpolate": "monotone", "fill": "#e31a1c", "stroke": "#333333", "strokeWidth": 2},
   "encoding": {"y": {"field": "v", "type": "quantitative", "scale": {"domain": [-0.02246, 0.4435], "nice": false, "zero": false}, "axis": null},
    "x": {"field": "w", "type": "quantitative", "stack": "center", "scale": {"domain": [-3.5, 73.5], "nice": false, "zero": false}, "axis": {"values": [31.5], "labels": false, "title": "1000", "titleX": 35, "titlePadding": 9}}}},
  {"data": {"name": "boxes"}, "transform": [{"filter": "datum.g == 'C-1000'"}], "mark": {"type": "rule", "color": "#333333", "strokeWidth": 1.5},
   "encoding": {"x": {"datum": 31.5, "type": "quantitative"}, "y": {"field": "lo", "type": "quantitative", "axis": null}, "y2": {"field": "hi"}}},
  {"data": {"name": "boxes"}, "transform": [{"filter": "datum.g == 'C-1000'"}], "mark": {"type": "rect", "fill": "#ffffff", "stroke": "#333333", "strokeWidth": 2},
   "encoding": {"x": {"datum": 28, "type": "quantitative"}, "x2": {"datum": 35}, "y": {"field": "q1", "type": "quantitative", "axis": null}, "y2": {"field": "q3"}}},
  {"data": {"name": "boxes"}, "transform": [{"filter": "datum.g == 'C-1000'"}], "mark": {"type": "rule", "color": "#333333", "strokeWidth": 2.5},
   "encoding": {"x": {"datum": 28, "type": "quantitative"}, "x2": {"datum": 35}, "y": {"field": "med", "type": "quantitative", "axis": null}}}
 ]},
{"width": 140, "height": 1, "data": {"values": [{}]}, "mark": {"type": "point", "opacity": 0}},
{"width": 1, "height": 335,
 "title": {"text": "D", "orient": "top", "anchor": "start", "fontSize": 26, "offset": -47, "dx": -30},
 "data": {"values": [{}]}, "mark": {"type": "rule", "color": "#1a1a1a", "strokeWidth": 2},
 "encoding": {
  "y": {"datum": 2.916, "type": "quantitative", "scale": {"domain": [-0.1379, 3.1626], "nice": false, "zero": false}, "axis": {"values": [0, 1, 2], "format": "~g", "domain": false, "title": "Signal/Noise", "titleFontSize": 21, "labelPadding": 3, "titlePadding": 27, "titleY": 183}},
  "y2": {"datum": -0.1379},
  "x": {"datum": 0, "type": "quantitative", "scale": {"domain": [0, 1]}, "axis": {"ticks": false, "labels": false, "title": "n =", "titleX": 4.5, "titlePadding": 16.3}}}},
{"width": 73, "height": 335,
 "layer": [
  {"data": {"name": "violins"}, "transform": [{"filter": "datum.g == 'D-10'"}], "mark": {"type": "area", "orient": "horizontal", "interpolate": "monotone", "fill": "#e31a1c", "stroke": "#333333", "strokeWidth": 2},
   "encoding": {"y": {"field": "v", "type": "quantitative", "scale": {"domain": [-0.1379, 3.1626], "nice": false, "zero": false}, "axis": null},
    "x": {"field": "w", "type": "quantitative", "stack": "center", "scale": {"domain": [-11, 62], "nice": false, "zero": false}, "axis": {"values": [30], "labels": false, "title": "10", "titleX": 41, "titlePadding": 10}}}},
  {"data": {"name": "boxes"}, "transform": [{"filter": "datum.g == 'D-10'"}], "mark": {"type": "rule", "color": "#333333", "strokeWidth": 1.5},
   "encoding": {"x": {"datum": 30, "type": "quantitative"}, "y": {"field": "lo", "type": "quantitative", "axis": null}, "y2": {"field": "hi"}}},
  {"data": {"name": "boxes"}, "transform": [{"filter": "datum.g == 'D-10'"}], "mark": {"type": "rect", "fill": "#ffffff", "stroke": "#333333", "strokeWidth": 2},
   "encoding": {"x": {"datum": 23, "type": "quantitative"}, "x2": {"datum": 37}, "y": {"field": "q1", "type": "quantitative", "axis": null}, "y2": {"field": "q3"}}},
  {"data": {"name": "boxes"}, "transform": [{"filter": "datum.g == 'D-10'"}], "mark": {"type": "rule", "color": "#333333", "strokeWidth": 3},
   "encoding": {"x": {"datum": 23, "type": "quantitative"}, "x2": {"datum": 37}, "y": {"field": "med", "type": "quantitative", "axis": null}}}
 ]},
{"width": 66, "height": 335,
 "layer": [
  {"data": {"name": "violins"}, "transform": [{"filter": "datum.g == 'D-50'"}], "mark": {"type": "area", "orient": "horizontal", "interpolate": "monotone", "fill": "#e31a1c", "stroke": "#333333", "strokeWidth": 2},
   "encoding": {"y": {"field": "v", "type": "quantitative", "scale": {"domain": [-0.1379, 3.1626], "nice": false, "zero": false}, "axis": null},
    "x": {"field": "w", "type": "quantitative", "stack": "center", "scale": {"domain": [-13.5, 52.5], "nice": false, "zero": false}, "axis": {"values": [19.5], "labels": false, "title": "50", "titleX": 33, "titlePadding": 10}}}},
  {"data": {"name": "boxes"}, "transform": [{"filter": "datum.g == 'D-50'"}], "mark": {"type": "rule", "color": "#333333", "strokeWidth": 1.5},
   "encoding": {"x": {"datum": 19.5, "type": "quantitative"}, "y": {"field": "lo", "type": "quantitative", "axis": null}, "y2": {"field": "hi"}}},
  {"data": {"name": "boxes"}, "transform": [{"filter": "datum.g == 'D-50'"}], "mark": {"type": "rect", "fill": "#ffffff", "stroke": "#333333", "strokeWidth": 2},
   "encoding": {"x": {"datum": 12.5, "type": "quantitative"}, "x2": {"datum": 26.5}, "y": {"field": "q1", "type": "quantitative", "axis": null}, "y2": {"field": "q3"}}},
  {"data": {"name": "boxes"}, "transform": [{"filter": "datum.g == 'D-50'"}], "mark": {"type": "rule", "color": "#333333", "strokeWidth": 3},
   "encoding": {"x": {"datum": 12.5, "type": "quantitative"}, "x2": {"datum": 26.5}, "y": {"field": "med", "type": "quantitative", "axis": null}}}
 ]},
{"width": 66, "height": 335,
 "title": {"text": ["# of normals used to", "construct reference plane"], "orient": "bottom", "anchor": "end", "align": "center", "baseline": "top", "fontSize": 22, "lineHeight": 27, "offset": 13, "dx": -21},
 "layer": [
  {"data": {"name": "violins"}, "transform": [{"filter": "datum.g == 'D-100'"}], "mark": {"type": "area", "orient": "horizontal", "interpolate": "monotone", "fill": "#e31a1c", "stroke": "#333333", "strokeWidth": 2},
   "encoding": {"y": {"field": "v", "type": "quantitative", "scale": {"domain": [-0.1379, 3.1626], "nice": false, "zero": false}, "axis": null},
    "x": {"field": "w", "type": "quantitative", "stack": "center", "scale": {"domain": [-15.5, 50.5], "nice": false, "zero": false}, "axis": {"values": [17.5], "labels": false, "title": "100", "titleX": 33, "titlePadding": 10}}}},
  {"data": {"name": "boxes"}, "transform": [{"filter": "datum.g == 'D-100'"}], "mark": {"type": "rule", "color": "#333333", "strokeWidth": 1.5},
   "encoding": {"x": {"datum": 17.5, "type": "quantitative"}, "y": {"field": "lo", "type": "quantitative", "axis": null}, "y2": {"field": "hi"}}},
  {"data": {"name": "boxes"}, "transform": [{"filter": "datum.g == 'D-100'"}], "mark": {"type": "rect", "fill": "#ffffff", "stroke": "#333333", "strokeWidth": 2},
   "encoding": {"x": {"datum": 10.5, "type": "quantitative"}, "x2": {"datum": 24.5}, "y": {"field": "q1", "type": "quantitative", "axis": null}, "y2": {"field": "q3"}}},
  {"data": {"name": "boxes"}, "transform": [{"filter": "datum.g == 'D-100'"}], "mark": {"type": "rule", "color": "#333333", "strokeWidth": 3},
   "encoding": {"x": {"datum": 10.5, "type": "quantitative"}, "x2": {"datum": 24.5}, "y": {"field": "med", "type": "quantitative", "axis": null}}}
 ]},
{"width": 66, "height": 335,
 "layer": [
  {"data": {"name": "violins"}, "transform": [{"filter": "datum.g == 'D-200'"}], "mark": {"type": "area", "orient": "horizontal", "interpolate": "monotone", "fill": "#e31a1c", "stroke": "#333333", "strokeWidth": 2},
   "encoding": {"y": {"field": "v", "type": "quantitative", "scale": {"domain": [-0.1379, 3.1626], "nice": false, "zero": false}, "axis": null},
    "x": {"field": "w", "type": "quantitative", "stack": "center", "scale": {"domain": [-17, 49], "nice": false, "zero": false}, "axis": {"values": [16], "labels": false, "title": "200", "titleX": 33, "titlePadding": 10}}}},
  {"data": {"name": "boxes"}, "transform": [{"filter": "datum.g == 'D-200'"}], "mark": {"type": "rule", "color": "#333333", "strokeWidth": 1.5},
   "encoding": {"x": {"datum": 16, "type": "quantitative"}, "y": {"field": "lo", "type": "quantitative", "axis": null}, "y2": {"field": "hi"}}},
  {"data": {"name": "boxes"}, "transform": [{"filter": "datum.g == 'D-200'"}], "mark": {"type": "rect", "fill": "#ffffff", "stroke": "#333333", "strokeWidth": 2},
   "encoding": {"x": {"datum": 9, "type": "quantitative"}, "x2": {"datum": 23}, "y": {"field": "q1", "type": "quantitative", "axis": null}, "y2": {"field": "q3"}}},
  {"data": {"name": "boxes"}, "transform": [{"filter": "datum.g == 'D-200'"}], "mark": {"type": "rule", "color": "#333333", "strokeWidth": 3},
   "encoding": {"x": {"datum": 9, "type": "quantitative"}, "x2": {"datum": 23}, "y": {"field": "med", "type": "quantitative", "axis": null}}}
 ]},
{"width": 66, "height": 335,
 "layer": [
  {"data": {"name": "violins"}, "transform": [{"filter": "datum.g == 'D-500'"}], "mark": {"type": "area", "orient": "horizontal", "interpolate": "monotone", "fill": "#e31a1c", "stroke": "#333333", "strokeWidth": 2},
   "encoding": {"y": {"field": "v", "type": "quantitative", "scale": {"domain": [-0.1379, 3.1626], "nice": false, "zero": false}, "axis": null},
    "x": {"field": "w", "type": "quantitative", "stack": "center", "scale": {"domain": [-18, 48], "nice": false, "zero": false}, "axis": {"values": [15], "labels": false, "title": "500", "titleX": 33, "titlePadding": 10}}}},
  {"data": {"name": "boxes"}, "transform": [{"filter": "datum.g == 'D-500'"}], "mark": {"type": "rule", "color": "#333333", "strokeWidth": 1.5},
   "encoding": {"x": {"datum": 15, "type": "quantitative"}, "y": {"field": "lo", "type": "quantitative", "axis": null}, "y2": {"field": "hi"}}},
  {"data": {"name": "boxes"}, "transform": [{"filter": "datum.g == 'D-500'"}], "mark": {"type": "rect", "fill": "#ffffff", "stroke": "#333333", "strokeWidth": 2},
   "encoding": {"x": {"datum": 8, "type": "quantitative"}, "x2": {"datum": 22}, "y": {"field": "q1", "type": "quantitative", "axis": null}, "y2": {"field": "q3"}}},
  {"data": {"name": "boxes"}, "transform": [{"filter": "datum.g == 'D-500'"}], "mark": {"type": "rule", "color": "#333333", "strokeWidth": 3},
   "encoding": {"x": {"datum": 8, "type": "quantitative"}, "x2": {"datum": 22}, "y": {"field": "med", "type": "quantitative", "axis": null}}}
 ]},
{"width": 74, "height": 335,
 "layer": [
  {"data": {"name": "violins"}, "transform": [{"filter": "datum.g == 'D-1000'"}], "mark": {"type": "area", "orient": "horizontal", "interpolate": "monotone", "fill": "#e31a1c", "stroke": "#333333", "strokeWidth": 2},
   "encoding": {"y": {"field": "v", "type": "quantitative", "scale": {"domain": [-0.1379, 3.1626], "nice": false, "zero": false}, "axis": null},
    "x": {"field": "w", "type": "quantitative", "stack": "center", "scale": {"domain": [-19, 55], "nice": false, "zero": false}, "axis": {"values": [15], "labels": false, "title": "1000", "titleX": 34, "titlePadding": 10}}}},
  {"data": {"name": "boxes"}, "transform": [{"filter": "datum.g == 'D-1000'"}], "mark": {"type": "rule", "color": "#333333", "strokeWidth": 1.5},
   "encoding": {"x": {"datum": 15, "type": "quantitative"}, "y": {"field": "lo", "type": "quantitative", "axis": null}, "y2": {"field": "hi"}}},
  {"data": {"name": "boxes"}, "transform": [{"filter": "datum.g == 'D-1000'"}], "mark": {"type": "rect", "fill": "#ffffff", "stroke": "#333333", "strokeWidth": 2},
   "encoding": {"x": {"datum": 8, "type": "quantitative"}, "x2": {"datum": 22}, "y": {"field": "q1", "type": "quantitative", "axis": null}, "y2": {"field": "q3"}}},
  {"data": {"name": "boxes"}, "transform": [{"filter": "datum.g == 'D-1000'"}], "mark": {"type": "rule", "color": "#333333", "strokeWidth": 3},
   "encoding": {"x": {"datum": 8, "type": "quantitative"}, "x2": {"datum": 22}, "y": {"field": "med", "type": "quantitative", "axis": null}}}
 ]}
]}
]
}
